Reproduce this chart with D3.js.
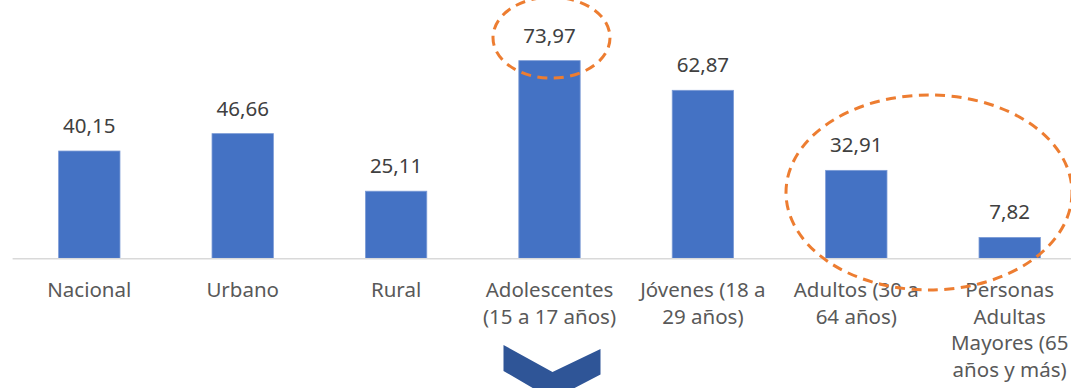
<!DOCTYPE html>
<html>
<head>
<meta charset="utf-8">
<script src="https://cdn.jsdelivr.net/npm/d3@7"></script>
<style>
  html, body { margin: 0; padding: 0; background: #ffffff; }
  svg { display: block; }
</style>
</head>
<body>
<svg id="chart" width="1071" height="388"></svg>
<script>
// Categories (each entry is the list of wrapped label lines)
const categories = [
  "Nacional",
  "Urbano",
  "Rural",
  "Adolescentes (15 a 17 años)",
  "Jóvenes (18 a 29 años)",
  "Adultos (30 a 64 años)",
  "Personas Adultas Mayores (65 años y más)"
];
const labelLines = [
  ["Nacional"],
  ["Urbano"],
  ["Rural"],
  ["Adolescentes", "(15 a 17 años)"],
  ["Jóvenes (18 a", "29 años)"],
  ["Adultos (30 a", "64 años)"],
  ["Personas", "Adultas", "Mayores (65", "años y más)"]
];
const values = [40.15, 46.66, 25.11, 73.97, 62.87, 32.91, 7.82];
const valueLabels = ["40,15", "46,66", "25,11", "73,97", "62,87", "32,91", "7,82"];

const svg = d3.select("#chart");
const FONT = "'Noto Sans', 'Open Sans', sans-serif";

const x = d3.scaleBand()
  .domain(categories)
  .range([12.6, 1086.4])
  .paddingInner(0.6)
  .paddingOuter(0.3);

const baseY = 258.3;
const y = d3.scaleLinear()
  .domain([0, 80])
  .range([baseY, baseY - 80 * 2.672]);

const cx = c => x(c) + x.bandwidth() / 2;

// bars
svg.append("g").selectAll("rect")
  .data(values)
  .join("rect")
  .attr("x", (d, i) => x(categories[i]))
  .attr("y", d => y(d))
  .attr("width", x.bandwidth())
  .attr("height", d => y(0) - y(d))
  .attr("fill", "#4472C4")
  .attr("stroke", "#7C9BD6")
  .attr("stroke-width", 0.8);

// baseline axis
const axis = d3.axisBottom(x).tickSize(0).tickFormat("");
const gAxis = svg.append("g")
  .attr("transform", `translate(0,${y(0)})`)
  .call(axis);
gAxis.select(".domain")
  .attr("d", `M12.6,0.5H1071`)
  .attr("stroke", "#D9D9D9")
  .attr("stroke-width", 1.5);

// value labels
svg.append("g").selectAll("text")
  .data(values)
  .join("text")
  .attr("x", (d, i) => cx(categories[i]))
  .attr("y", d => y(d) - 18)
  .attr("text-anchor", "middle")
  .attr("font-family", FONT)
  .attr("font-size", "20.5px")
  .attr("fill", "#404040")
  .text((d, i) => valueLabels[i]);

// category labels
const catG = svg.append("g");
labelLines.forEach((lines, i) => {
  const t = catG.append("text")
    .attr("x", cx(categories[i]))
    .attr("y", y(0) + 38.5)
    .attr("text-anchor", "middle")
    .attr("font-family", FONT)
    .attr("font-size", "20.5px")
    .attr("fill", "#595959");
  lines.forEach((ln, j) => {
    t.append("tspan")
      .attr("x", cx(categories[i]))
      .attr("dy", j === 0 ? 0 : 26.8)
      .text(ln);
  });
});

// highlight ellipses
const ann = svg.append("g")
  .attr("fill", "none")
  .attr("stroke", "#ED7D31")
  .attr("stroke-width", 3)
  .attr("stroke-dasharray", "10,6.5");

const adol = categories[3];
ann.append("ellipse")
  .attr("cx", cx(adol) + 2)
  .attr("cy", y(values[3]) - 23)
  .attr("rx", 58.5)
  .attr("ry", 40.5);

const adultos = categories[5], mayores = categories[6];
ann.append("ellipse")
  .attr("cx", (cx(adultos) + cx(mayores)) / 2 - 4)
  .attr("cy", 192.5)
  .attr("rx", 143)
  .attr("ry", 97.5);

// downward chevron under the adolescents' column
const chx = cx(adol) + 3;
const chevron = [
  [-49, 345], [0, 372], [48, 349], [48, 374.5], [0, 399.5], [-49, 371]
];
svg.append("path")
  .attr("d", d3.line()(chevron.map(([dx, py]) => [chx + dx, py])) + "Z")
  .attr("fill", "#2F5597");
</script>
</body>
</html>
